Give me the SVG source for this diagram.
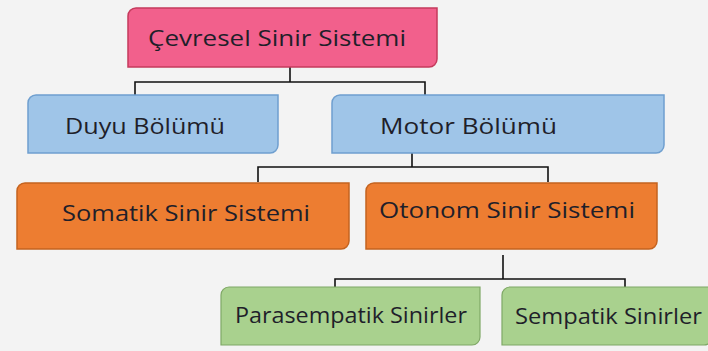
<svg xmlns="http://www.w3.org/2000/svg" width="708" height="351" viewBox="0 0 708 351">
<style>
.lbl{font-family:"Open Sans","Noto Sans","Liberation Sans",sans-serif;font-size:21px;fill:#1f1f2a}
.pink{fill:#f2608c;stroke:#c53a5c;stroke-width:1.5}
.blue{fill:#9fc5e8;stroke:#6f9fcf;stroke-width:1.5}
.orange{fill:#ed7d31;stroke:#c4631f;stroke-width:1.5}
.green{fill:#a9d18e;stroke:#7fa866;stroke-width:1.2}
.conn{fill:none;stroke:#111;stroke-width:1.6}
</style>
<rect width="708" height="351" fill="#f3f3f3"/>
<g id="connectors">
<path class="conn" d="M290,67 V82 M135,96 V82 H425 V96"/>
<path class="conn" d="M412,153 V167 M258,182 V167 H548 V182"/>
<path class="conn" d="M503,255 V279 M335,292 V279 H625 V292"/>
</g>
<g id="cevresel">
<path class="pink" d="M136,8 H437 V59 A8,8 0 0 1 429,67 H128 V16 A8,8 0 0 1 136,8 Z"/>
<text class="lbl" x="148" y="46" textLength="258" lengthAdjust="spacingAndGlyphs">Çevresel Sinir Sistemi</text>
</g>
<g id="duyu">
<path class="blue" d="M36,95 H278 V145 A8,8 0 0 1 270,153 H28 V103 A8,8 0 0 1 36,95 Z"/>
<text class="lbl" x="65" y="134" textLength="160" lengthAdjust="spacingAndGlyphs">Duyu Bölümü</text>
</g>
<g id="motor">
<path class="blue" d="M340,95 H664 V145 A8,8 0 0 1 656,153 H332 V103 A8,8 0 0 1 340,95 Z"/>
<text class="lbl" x="380" y="134" textLength="177" lengthAdjust="spacingAndGlyphs">Motor Bölümü</text>
</g>
<g id="somatik">
<path class="orange" d="M25,183 H349 V241 A8,8 0 0 1 341,249 H17 V191 A8,8 0 0 1 25,183 Z"/>
<text class="lbl" x="62" y="221" textLength="248" lengthAdjust="spacingAndGlyphs">Somatik Sinir Sistemi</text>
</g>
<g id="otonom">
<path class="orange" d="M374,183 H657 V241 A8,8 0 0 1 649,249 H366 V191 A8,8 0 0 1 374,183 Z"/>
<text class="lbl" x="379" y="218" textLength="256" lengthAdjust="spacingAndGlyphs">Otonom Sinir Sistemi</text>
</g>
<g id="parasempatik">
<path class="green" d="M229,287 H480 V337 A8,8 0 0 1 472,345 H221 V295 A8,8 0 0 1 229,287 Z"/>
<text class="lbl" x="235" y="323" textLength="232" lengthAdjust="spacingAndGlyphs">Parasempatik Sinirler</text>
</g>
<g id="sempatik">
<path class="green" d="M510,287 H712 V337 A8,8 0 0 1 704,345 H502 V295 A8,8 0 0 1 510,287 Z"/>
<text class="lbl" x="515" y="324" textLength="187" lengthAdjust="spacingAndGlyphs">Sempatik Sinirler</text>
</g>
</svg>
